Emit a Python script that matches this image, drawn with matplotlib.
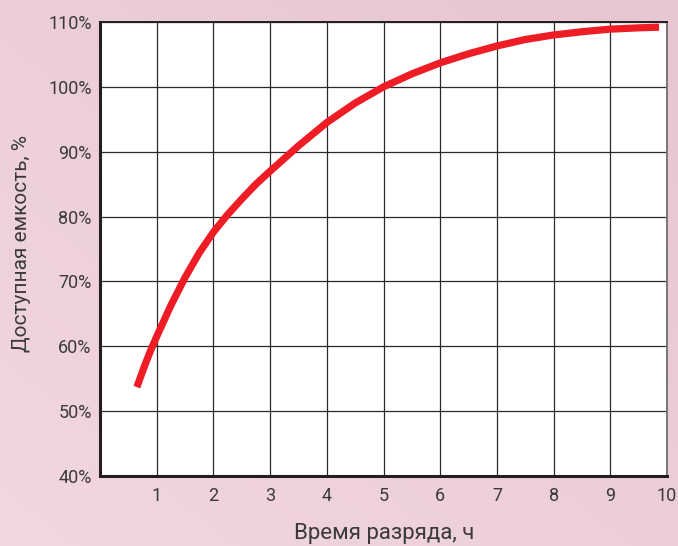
import numpy as np
import matplotlib
matplotlib.use("Agg")
import matplotlib.pyplot as plt

hours = [0.65, 0.8, 0.9, 1.0, 1.25, 1.5, 1.75, 2.0, 2.25, 2.5, 2.75, 3.0, 3.5, 4.0, 4.5, 5.0,
         5.5, 6.0, 6.5, 7.0, 7.5, 8.0, 8.5, 9.0, 9.5, 9.86]
capacity = [53.7, 57.3, 59.5, 61.5, 66.3, 70.6, 74.4, 77.6, 80.3, 82.7, 85.0, 87.0, 90.9, 94.5,
            97.5, 100.0, 102.0, 103.7, 105.1, 106.3, 107.3, 108.0, 108.5, 108.9, 109.1, 109.2]
x_ticks = [1, 2, 3, 4, 5, 6, 7, 8, 9, 10]
y_ticks = [40, 50, 60, 70, 80, 90, 100, 110]
y_tick_labels = ["40%", "50%", "60%", "70%", "80%", "90%", "100%", "110%"]
x_label = "Время разряда, ч"
y_label = "Доступная емкость, %"

plt.rcParams['font.family'] = ['Roboto', 'DejaVu Sans']

W, H = 678, 546
fig = plt.figure(figsize=(W / 100, H / 100), dpi=100)

# background gradient
bg = fig.add_axes([0, 0, 1, 1], zorder=-10)
gx, gy = np.meshgrid(np.linspace(0, 1, 200), np.linspace(0, 1, 200))
t = 0.5 * gx + 0.5 * gy
c0 = np.array([242, 215, 223]) / 255
c1 = np.array([230, 198, 208]) / 255
img = c0[None, None, :] * (1 - t[..., None]) + c1[None, None, :] * t[..., None]
bg.imshow(img, origin="lower", extent=[0, 1, 0, 1], aspect="auto")
bg.set_axis_off()

L, R, T, B = 100, 667, 22, 476
ax = fig.add_axes([L / W, 1 - B / H, (R - L) / W, (B - T) / H])
ax.set_facecolor("white")
ax.set_xlim(0, 10)
ax.set_ylim(40, 110)
ax.set_xticks(x_ticks)
ax.set_xticklabels([str(v) for v in x_ticks])
ax.set_yticks(y_ticks)
ax.set_yticklabels(y_tick_labels)
ax.tick_params(length=0, labelsize=13, colors="#3a3a3a", pad=6)
ax.tick_params(axis="x", pad=8)
ax.grid(True, color="#2a2a2a", linewidth=0.9)
ax.set_axisbelow(True)
for s in ["left", "bottom"]:
    ax.spines[s].set_linewidth(2.2)
    ax.spines[s].set_color("#231f20")
ax.spines["top"].set_linewidth(1.4)
ax.spines["top"].set_color("#231f20")
ax.spines["right"].set_linewidth(1.4)
ax.spines["right"].set_color("#777777")

ax.plot(hours, capacity, color="#EE1C25", linewidth=5.2, solid_capstyle="butt",
        solid_joinstyle="round", zorder=5)

fig.text(384 / W, 1 - 533 / H, x_label, ha="center", va="center", fontsize=16, color="#3a3a3a")
fig.text(22 / W, 1 - 243 / H, y_label, ha="center", va="center", rotation=90, fontsize=15, color="#3a3a3a")

fig.savefig("out.png", dpi=100)
